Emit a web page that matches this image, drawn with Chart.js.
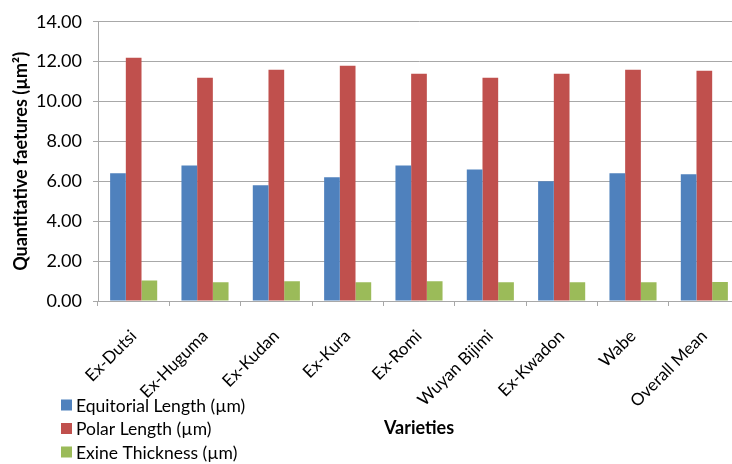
<!DOCTYPE html>
<html>
<head>
<meta charset="utf-8">
<script src="https://cdn.jsdelivr.net/npm/chart.js@4.4.1/dist/chart.umd.min.js"></script>
<style>
  html, body { margin: 0; padding: 0; background: #fff; overflow: hidden; }
  #wrap { position: relative; width: 745px; height: 464px; }
</style>
</head>
<body>
<div id="wrap"><canvas id="chart"></canvas></div>
<script>
// Pollen morphology by variety
const varieties = ['Ex-Dutsi', 'Ex-Huguma', 'Ex-Kudan', 'Ex-Kura', 'Ex-Romi', 'Wuyan Bijimi', 'Ex-Kwadon', 'Wabe', 'Overall Mean'];
const equatorialLength = [6.4, 6.8, 5.8, 6.2, 6.8, 6.6, 6.0, 6.4, 6.35];
const polarLength = [12.2, 11.2, 11.6, 11.8, 11.4, 11.2, 11.4, 11.6, 11.55];
const exineThickness = [1.03, 0.94, 0.99, 0.94, 0.99, 0.94, 0.94, 0.94, 0.95];
const seriesNames = ['Equitorial Length (µm)', 'Polar Length (µm)', 'Exine Thickness (µm)'];

const FONT = 'Lato, "Liberation Sans", sans-serif';
const GRID = '#a8a8a8';

// Legend stacked in the lower-left corner, below the category labels
const cornerLegend = {
  id: 'cornerLegend',
  afterDraw(chart) {
    const ctx = chart.ctx;
    ctx.save();
    ctx.font = '17.5px ' + FONT;
    ctx.textBaseline = 'middle';
    ctx.textAlign = 'left';
    const rows = [405, 428.5, 452];
    chart.data.datasets.forEach((ds, i) => {
      const y = rows[i];
      ctx.fillStyle = ds.backgroundColor;
      ctx.fillRect(61, y - 5.5, 11, 11);
      ctx.fillStyle = '#000';
      ctx.fillText(ds.label, 76, y + 1);
    });
    ctx.restore();
  }
};

new Chart(document.getElementById('chart'), {
  type: 'bar',
  data: {
    labels: varieties,
    datasets: [
      { label: seriesNames[0], data: equatorialLength, backgroundColor: '#4f81bd' },
      { label: seriesNames[1], data: polarLength, backgroundColor: '#c0504d' },
      { label: seriesNames[2], data: exineThickness, backgroundColor: '#9bbb59' }
    ]
  },
  options: {
    responsive: true,
    maintainAspectRatio: false,
    devicePixelRatio: 1,
    animation: false,
    layout: { padding: { top: 19, right: 5, bottom: 0, left: 0 } },
    datasets: { bar: { categoryPercentage: 0.66, barPercentage: 1.0 } },
    plugins: {
      legend: { display: false },
      tooltip: { enabled: false }
    },
    scales: {
      x: {
        grid: { display: true, drawOnChartArea: false, drawTicks: true, tickLength: 5, color: GRID, offset: true },
        border: { display: true, color: GRID },
        ticks: {
          autoSkip: false, maxRotation: 45, minRotation: 45, padding: 20,
          color: '#000', font: { family: FONT, size: 17 }
        },
        title: {
          display: true, text: 'Varieties', color: '#000',
          font: { family: FONT, size: 18, weight: 'bold' },
          padding: { top: 0, bottom: 25 }
        },
        afterFit(scale) { scale.height = 163; }
      },
      y: {
        min: 0, max: 14,
        grid: { color: GRID, drawTicks: true, tickLength: 5 },
        border: { display: true, color: GRID },
        ticks: {
          stepSize: 2, padding: 11, color: '#000',
          font: { family: FONT, size: 18 },
          callback: v => Number(v).toFixed(2)
        },
        title: {
          display: true, text: 'Quantitative faetures (µm²)', color: '#000',
          font: { family: FONT, size: 18, weight: 'bold' },
          padding: { top: 10, bottom: 0 }
        },
        afterFit(scale) { scale.width = 98; }
      }
    }
  },
  plugins: [cornerLegend]
});
</script>
</body>
</html>
